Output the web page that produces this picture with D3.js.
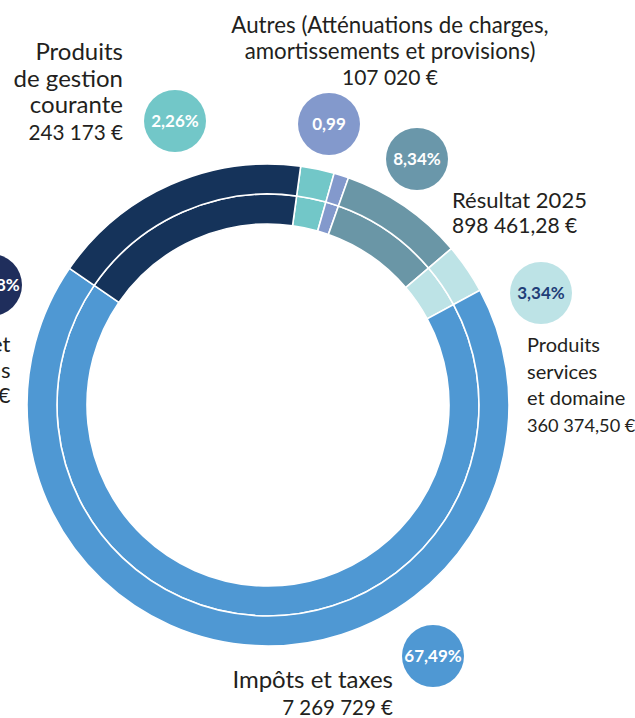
<!DOCTYPE html>
<meta charset="utf-8">
<style>
body {
    margin: 0;
    background: #fff;
    font-family: 'Lato', 'Open Sans', sans-serif;
}
svg {
    display: block;
}
.ring path {
    stroke: #fff;
    stroke-width: 1.6px;
}
.label text {
    fill: #231f20;
}
.bubble text {
    font-weight: bold;
    text-anchor: middle;
}
</style>
<body>
<svg width="635" height="718"></svg>
<script src="https://cdn.jsdelivr.net/npm/d3@7"></script>
<script>

// data, in the order the slices run clockwise from the top
var categories = ["Produits de gestion courante", "Autres", "Résultat 2025",
                  "Produits services et domaine", "Impôts et taxes", "Dotations et participations"];
var values = [243173, 107020, 898461.28, 360374.50, 7269729, 1892807];
var shares = ["2,26%", "0,99", "8,34%", "3,34%", "67,49%", "17,58%"];
var amounts = ["243 173 €", "107 020 €", "898 461,28 €", "360 374,50 €", "7 269 729 €", "1 892 807 €"];
var labelLines = [
    ["Produits", "de gestion", "courante"],
    ["Autres (Atténuations de charges,", "amortissements et provisions)"],
    ["Résultat 2025"],
    ["Produits", "services", "et domaine"],
    ["Impôts et taxes"],
    ["Dotations et", "participations"]
];

var sliceColors = ["#72c7c8", "#8399cc", "#6a96a6", "#bde3e6", "#4f98d3", "#15335a"];
var bubbleColors = ["#72c7c8", "#8399cc", "#6a97aa", "#bde3e6", "#4f98d3", "#1f2e5c"];
var bubbleText = ["#fff", "#fff", "#fff", "#1f3e78", "#fff", "#fff"];

// where the annotations sit
var bubblePos = [[175, 121], [329, 124], [417, 159], [541, 293], [433, 656], [-9, 285]];
var labelPos = [
    {x: 123, y: 60,  anchor: "end",    size: 24,   vsize: 20.7, lead: 26.7},
    {x: 390, y: 33,  anchor: "middle", size: 22.3, vsize: 21,   lead: 26},
    {x: 452, y: 208, anchor: "start",  size: 22,   vsize: 21,   lead: 25},
    {x: 527, y: 352, anchor: "start",  size: 20,   vsize: 18.2, lead: 26.7},
    {x: 393, y: 688, anchor: "end",    size: 24,   vsize: 20.5, lead: 27},
    {x: 10.5, y: 352, anchor: "end",   size: 22,   vsize: 22,   lead: 25.5}
];

var cx = 268, cy = 405;
var rInner = 181, rMid = 211, rOuter = 241;
var start = 7.8 * Math.PI / 180;

var svg = d3.select("svg");

var pie = d3.pie()
    .sort(null)
    .startAngle(start)
    .endAngle(start + 2 * Math.PI)
    .value(function(d) { return d; });

var arcs = pie(values);

var innerArc = d3.arc().innerRadius(rInner).outerRadius(rMid);
var outerArc = d3.arc().innerRadius(rMid).outerRadius(rOuter);

var ring = svg.append("g")
    .attr("class", "ring")
    .attr("transform", "translate(" + cx + "," + cy + ")");

ring.selectAll("path.inner")
    .data(arcs)
    .enter().append("path")
    .attr("class", "inner")
    .attr("fill", function(d, i) { return sliceColors[i]; })
    .attr("d", innerArc);

ring.selectAll("path.outer")
    .data(arcs)
    .enter().append("path")
    .attr("class", "outer")
    .attr("fill", function(d, i) { return sliceColors[i]; })
    .attr("d", outerArc);

// percentage bubbles
var bubble = svg.selectAll("g.bubble")
    .data(shares)
    .enter().append("g")
    .attr("class", "bubble")
    .attr("transform", function(d, i) { return "translate(" + bubblePos[i] + ")"; });

bubble.append("circle")
    .attr("r", 31)
    .attr("fill", function(d, i) { return bubbleColors[i]; });

bubble.append("text")
    .attr("dy", "0.36em")
    .style("font-size", "17px")
    .attr("fill", function(d, i) { return bubbleText[i]; })
    .text(function(d) { return d; });

// category labels with amounts
var label = svg.selectAll("g.label")
    .data(categories)
    .enter().append("g")
    .attr("class", "label");

label.each(function(d, i) {
    var p = labelPos[i];
    var t = d3.select(this).append("text")
        .attr("text-anchor", p.anchor);
    labelLines[i].forEach(function(line, k) {
        t.append("tspan")
            .attr("x", p.x)
            .attr("y", p.y + k * p.lead)
            .style("font-size", p.size + "px")
            .text(line);
    });
    t.append("tspan")
        .attr("x", p.x)
        .attr("y", p.y + labelLines[i].length * p.lead)
        .style("font-size", p.vsize + "px")
        .text(amounts[i]);
});

</script>
</body>
